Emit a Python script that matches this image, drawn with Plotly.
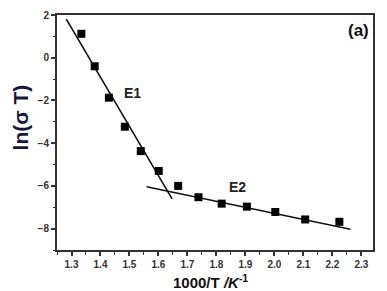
import plotly.graph_objects as go

# data
x_data = [1.334, 1.380, 1.429, 1.484, 1.539, 1.601, 1.668, 1.738, 1.818, 1.905, 2.003, 2.106, 2.224]
y_data = [1.12, -0.40, -1.87, -3.23, -4.37, -5.30, -6.00, -6.53, -6.83, -6.97, -7.22, -7.57, -7.68]

fit1_x = [1.282, 1.647]
fit1_y = [1.81, -6.61]
fit2_x = [1.559, 2.262]
fit2_y = [-6.04, -8.03]

labels = ["E1", "E2"]
label_x = [1.511, 1.873]
label_y = [-1.65, -6.05]

fig = go.Figure()
fig.add_trace(go.Scatter(x=fit1_x, y=fit1_y, mode="lines",
                         line=dict(color="#111111", width=1.6), showlegend=False))
fig.add_trace(go.Scatter(x=fit2_x, y=fit2_y, mode="lines",
                         line=dict(color="#111111", width=1.6), showlegend=False))
fig.add_trace(go.Scatter(x=x_data, y=y_data, mode="markers",
                         marker=dict(symbol="square", size=8, color="#000000"),
                         showlegend=False))

for t, lx, ly in zip(labels, label_x, label_y):
    fig.add_annotation(x=lx, y=ly, text="<b>" + t + "</b>", showarrow=False,
                       font=dict(family="Liberation Sans", size=14, color="#222222"))

fig.add_annotation(xref="paper", yref="paper", x=0.995, y=0.985, xanchor="right", yanchor="top",
                   text="<b>(a)</b>", showarrow=False,
                   font=dict(family="Liberation Sans", size=17, color="#111111"))

# axis titles
fig.add_annotation(xref="paper", yref="paper", x=0.4865, y=-0.136, xanchor="center", yanchor="middle",
                   text="<b>1000/T <i>/K</i><sup>-1</sup></b>", showarrow=False,
                   font=dict(family="Liberation Sans", size=15, color="#111111"))
fig.add_annotation(xref="paper", yref="paper", x=-0.1125, y=0.566, xanchor="center", yanchor="middle",
                   text="<b>ln(σ T)</b>", showarrow=False, textangle=-90,
                   font=dict(family="Liberation Sans", size=21, color="#14183f"))

axis_common = dict(
    showgrid=False, zeroline=False, showline=True, linecolor="#333333", linewidth=2,
    mirror=True, ticks="outside", ticklen=4, tickwidth=1.5, tickcolor="#333333", automargin=False,
    tickfont=dict(family="Liberation Sans", size=10, color="#333333", weight="bold"),
)

fig.update_xaxes(range=[1.25, 2.34], dtick=0.1, tick0=1.3, tickformat=".1f",
                 minor=dict(dtick=0.05, ticks="outside", ticklen=2.5, tickcolor="#333333", tickwidth=1.2),
                 **axis_common)
fig.update_yaxes(range=[-9, 2], dtick=2, tick0=0,
                 minor=dict(dtick=1, ticks="outside", ticklen=2.5, tickcolor="#333333", tickwidth=1.2),
                 **axis_common)

# page body adds an 8px offset; figure sized so plot area lands where the reference has it
fig.update_layout(width=379, height=283, margin=dict(l=49, r=14, t=7, b=41),
                  plot_bgcolor="white", paper_bgcolor="white")

fig.write_html("out.html")
